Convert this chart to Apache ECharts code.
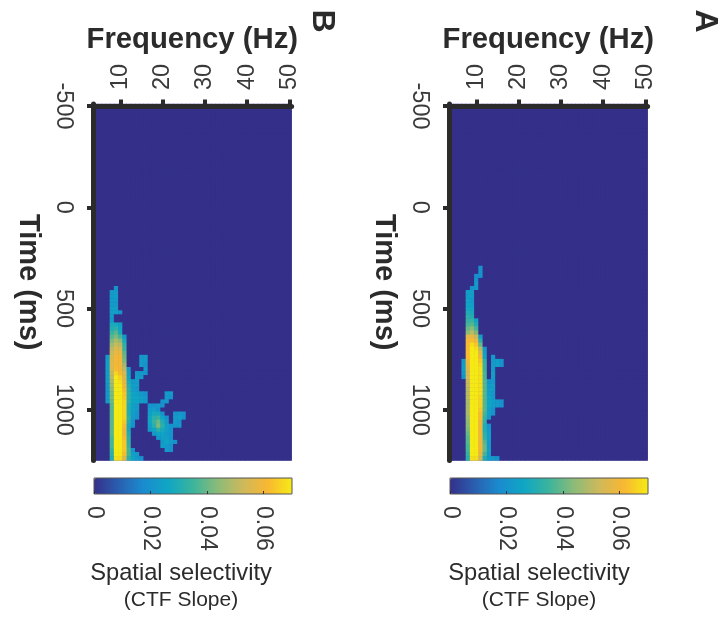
<!DOCTYPE html>
<html><head><meta charset="utf-8">
<style>html,body{margin:0;padding:0;background:#fff}#c{width:724px;height:618px}</style>
<script src="https://cdn.jsdelivr.net/npm/echarts@6/dist/echarts.min.js"></script>
</head><body><div id="c"></div>
<script>
// Axis bins: time bins of 20 ms, frequency bins of 1 Hz
const frequencyHz = [];
for (let f = 4; f <= 50; f++) frequencyHz.push(String(f));
const timeMs = [];
for (let t = -500; t <= 1240; t += 20) timeMs.push(String(t));
const frequencyTicks = ['10','20','30','40','50'];
const timeTicks = ['-500','0','500','1000'];
const colorbarTicks = [0, 0.02, 0.04, 0.06];
const slopeMax = 0.07;
const parulaColors = ['#34308a','#2a5fb0','#1a8ccf','#0fa6c4','#3cb49c','#8bbb78','#cdb95b','#f8b733','#f6ea14'];

// Significant cells: [time ms, first frequency Hz, slope x 1000 ...]
const slopeA = [
[300,11,20],[320,11,20],[340,10,18,20],[360,10,20],[380,10,22],[400,9,20,22],
[420,8,24,24],[440,8,24,24],[460,8,25,22],[480,8,26,24],[500,8,27,26],[520,8,30,28],[540,8,32,30],
[560,8,33,34,26],[580,8,36,38,30],[600,8,40,44,36],[620,8,44,50,42],
[640,8,56,58,52,24],[660,8,60,62,58,32],[680,8,62,68,64,40],[700,8,62,70,68,50,22],[720,8,62,70,70,56,24],
[740,8,62,70,70,60,26],[740,14,22],
[760,7,22,60,70,70,64,32],[760,14,22,24,20],
[780,7,24,58,70,70,66,34],[780,14,22,24,20],
[800,7,24,56,70,70,68,34],[800,14,22],
[820,7,22,54,70,70,68,36],[820,14,24],
[840,7,20,54,70,70,68,36],[840,14,24],
[860,8,52,70,70,68,38,20,22],[880,8,52,70,70,68,38,22,24],[900,8,50,70,70,68,38,24,24],
[920,8,50,70,70,68,38,24,22],[940,8,50,70,70,66,38,26,22],
[960,8,48,70,70,66,38,26,24,22,20],[980,8,48,70,70,66,38,26,24,22,20],
[1000,8,48,70,70,64,38,24,20],[1020,8,48,70,70,62,36,24,20],[1040,8,46,70,70,62,34,22],
[1060,8,44,70,70,60,32],[1080,8,44,70,70,60,30,20],[1100,8,42,70,70,60,30,22],[1120,8,40,70,70,60,32,24],
[1140,8,38,70,70,60,34,24],[1160,8,38,70,70,60,38,22],[1180,8,36,70,70,60,40,22],[1200,8,36,70,70,60,40,24],
[1220,8,34,70,70,58,36,22],[1240,8,32,68,68,54,30,22,22,20]
];
const slopeB = [
[400,9,20],[420,8,22,22],[440,8,22,24],[460,8,22,22],[480,8,22,22],[500,8,24,24],[520,8,24,24,20],
[540,8,22],[560,8,22],
[580,8,28,28,24],[600,8,30,32,26],[620,8,34,38,28],[640,8,38,42,36,22],[660,8,42,48,44,28],
[680,8,46,52,50,32],[700,8,50,56,54,34],[720,8,52,58,58,38],
[740,7,22,54,60,60,40],[740,15,22,22],
[760,7,24,56,60,60,42],[760,15,22,22],
[780,7,24,56,60,60,46],[780,15,22,20],
[800,7,24,54,62,60,50,22],[800,16,22],
[820,7,24,52,66,62,54,24],[820,14,22,22,20],
[840,7,24,50,70,66,56,26],[840,14,24,22],
[860,7,24,48,70,68,58,28,22,24],
[880,7,22,46,70,70,60,30,24,24],[900,7,22,44,70,70,62,32,24,22],
[920,7,22,42,70,70,64,32,26,24,22,20],[920,21,22,22],
[940,7,22,42,70,70,64,32,26,26,24,22],[940,21,22,20],
[960,7,22,40,70,70,66,32,26,26,24,22],[960,20,20,22],
[980,8,38,70,70,66,30,24,22],[980,17,20,20,22,20],
[1000,8,38,70,70,66,30,24,22],[1000,17,22,24,20],
[1020,8,38,70,70,66,30,24,20],[1020,17,24,28,28,20],[1020,23,20,22,20],
[1040,8,38,70,70,66,32,22,20],[1040,17,26,32,34,26,20],[1040,23,22,24,20],
[1060,8,38,70,70,64,30,20],[1060,17,26,34,40,30,22],[1060,23,22,20],
[1080,8,38,70,70,62,28,20],[1080,17,24,32,42,32,24,20,20,22],
[1100,8,38,70,70,60,28],[1100,17,22,26,32,28,24,20],
[1120,8,38,70,70,60,30],[1120,18,22,26,26,22,20],
[1140,8,36,70,70,62,32],[1140,19,22,24,24,20],
[1160,8,36,70,70,64,32],[1160,20,22,26,22,20],
[1180,8,36,70,70,64,34],[1180,20,24,22,20],
[1200,8,34,70,70,64,36,20],[1200,21,22,20],
[1220,8,32,70,70,62,36,24,22],
[1240,8,30,68,68,56,32,26,22,20]
];

function cells(rows){
  const grid = {};
  rows.forEach(r => { for (let i = 2; i < r.length; i++) grid[r[0] + '|' + (r[1] + i - 2)] = r[i] / 1000; });
  const out = [];
  timeMs.forEach((t, y) => frequencyHz.forEach((f, x) => out.push([x, y, grid[t + '|' + f] || 0])));
  return out;
}

const ink = '#2b2b2b', label = '#3a3a3a', FONT = '"Liberation Sans", Arial, sans-serif';
const panels = [
  {left:449, data:slopeA, mark:'A', mx:705, cx:539},
  {left:93, data:slopeB, mark:'B', mx:322, cx:181}
];
const grid = [], xAxis = [], yAxis = [], series = [], visualMap = [], graphic = [];

panels.forEach((p, i) => {
  const g = grid.length;
  grid.push({left:p.left, top:104, width:198.6, height:356.4, show:true, backgroundColor:parulaColors[0], borderWidth:0});
  xAxis.push({
    type:'category', gridIndex:g, position:'top', offset:-2, data:frequencyHz, z:5,
    name:'Frequency (Hz)', nameLocation:'middle', nameGap:52,
    nameTextStyle:{fontFamily:FONT, fontSize:29.3, fontWeight:'bold', color:ink},
    axisLine:{onZero:false, lineStyle:{color:ink, width:5}},
    axisTick:{show:true, alignWithLabel:true, length:6.5, interval:(n, v) => frequencyTicks.includes(frequencyHz[n]), lineStyle:{color:ink, width:4}},
    axisLabel:{rotate:-90, margin:16, interval:(n, v) => frequencyTicks.includes(v), fontFamily:FONT, fontSize:23.5, color:label},
    splitLine:{show:false}
  });
  yAxis.push({
    type:'category', gridIndex:g, inverse:true, data:timeMs, z:5,
    name:'Time (ms)', nameLocation:'middle', nameGap:51, nameRotate:-90,
    nameTextStyle:{fontFamily:FONT, fontSize:29, fontWeight:'bold', color:ink},
    axisLine:{onZero:false, lineStyle:{color:ink, width:5}},
    axisTick:{show:true, alignWithLabel:true, length:6, interval:(n, v) => timeTicks.includes(timeMs[n]), lineStyle:{color:ink, width:4}},
    axisLabel:{rotate:-90, margin:18, interval:(n, v) => timeTicks.includes(v), fontFamily:FONT, fontSize:23.5, color:label},
    splitLine:{show:false}
  });
  series.push({type:'heatmap', xAxisIndex:g, yAxisIndex:g, data:cells(p.data), progressive:0, animation:false, itemStyle:{borderWidth:0}});
  visualMap.push({
    type:'continuous', seriesIndex:i, min:0, max:slopeMax, dimension:2, orient:'horizontal', calculable:false,
    left:p.left + 1, top:478, itemWidth:16, itemHeight:198, padding:0, inRange:{color:parulaColors}, text:null, hoverLink:false
  });
  const c = grid.length;
  grid.push({left:p.left + 1, top:478, width:198, height:16, show:true, backgroundColor:'transparent', borderColor:'#555', borderWidth:1, z:10});
  xAxis.push({
    type:'value', gridIndex:c, position:'bottom', min:0, max:slopeMax, interval:colorbarTicks[1], z:11,
    axisLine:{show:false}, splitLine:{show:false},
    axisTick:{inside:true, length:3, lineStyle:{color:'#333', width:1}},
    axisLabel:{rotate:-90, margin:12, showMaxLabel:false, fontFamily:FONT, fontSize:23, color:label}
  });
  yAxis.push({type:'value', gridIndex:c, show:false});
  graphic.push({type:'text', x:p.mx, y:21, rotation:-Math.PI/2, style:{text:p.mark, fontFamily:FONT, fontSize:32, fontWeight:'bold', fill:ink, textAlign:'center', textVerticalAlign:'middle'}});
  graphic.push({type:'text', x:p.cx, y:573, style:{text:'Spatial selectivity', fontFamily:FONT, fontSize:23.7, fill:ink, textAlign:'center', textVerticalAlign:'middle'}});
  graphic.push({type:'text', x:p.cx, y:600, style:{text:'(CTF Slope)', fontFamily:FONT, fontSize:21, fill:ink, textAlign:'center', textVerticalAlign:'middle'}});
});

const chart = echarts.init(document.getElementById('c'), null, {renderer:'canvas'});
chart.setOption({animation:false, backgroundColor:'#fff', grid, xAxis, yAxis, series, visualMap, graphic});
</script></body></html>
